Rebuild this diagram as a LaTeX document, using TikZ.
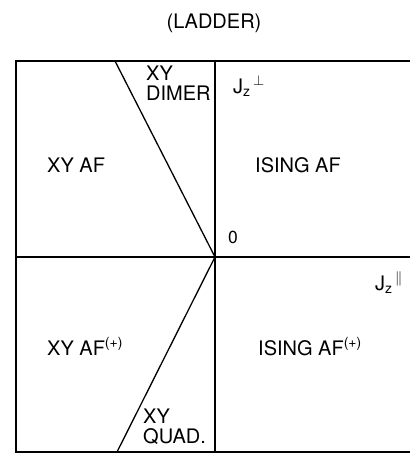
\documentclass[tikz,border=0pt]{standalone}
\usepackage{fontspec}
\setmainfont{TeX Gyre Heros}
\newcommand\phasefont{\fontsize{20}{19.5}\selectfont}
\begin{document}
\begin{tikzpicture}[x=1pt,y=-1pt,font=\phasefont,inner sep=0pt]
  \useasboundingbox (0,0) rectangle (410,456);
  \coordinate (tl) at (16,61);
  \coordinate (tr) at (410,61);
  \coordinate (bl) at (16,452);
  \coordinate (br) at (410,452);
  \coordinate (top) at (215,61);
  \coordinate (bot) at (215,452);
  \coordinate (left) at (16,257);
  \coordinate (right) at (410,257);
  \coordinate (o) at (215,257);
  \coordinate (dimer) at (115,61);
  \coordinate (quad) at (117,452);
  \draw[line width=1.8pt] (tr) -- (tl) -- (bl) -- (br);
  \draw[line width=1.8pt] (top) -- (bot);
  \draw[line width=1.8pt] (left) -- (right);
  \draw[line width=1.3pt] (dimer) -- (o) -- (quad);
  \node[anchor=base] (title) at (214,28) {(LADDER)};
  \node[anchor=base west,align=left] (xyd) at (146,100) {XY\\DIMER};
  \node[anchor=base west] (jperp) at (233,93) {J\textsubscript{z}\textsuperscript{\,$\perp$}};
  \node[anchor=base west] (xyaf) at (47,172) {XY AF};
  \node[anchor=base west] (isaf) at (255,172) {ISING AF};
  \node[anchor=base west,font=\fontsize{17.5}{17.5}\selectfont] (zero) at (228,243) {0};
  \node[anchor=base west] (jpar) at (375,290) {J\textsubscript{z}\textsuperscript{\,$\parallel$}};
  \node[anchor=base west] (xyafp) at (47,355) {XY AF\textsuperscript{(+)}};
  \node[anchor=base west] (isafp) at (258,355) {ISING AF\textsuperscript{(+)}};
  \node[anchor=base west,align=left] (xyq) at (143,443) {XY\\QUAD.};
\end{tikzpicture}
\end{document}
